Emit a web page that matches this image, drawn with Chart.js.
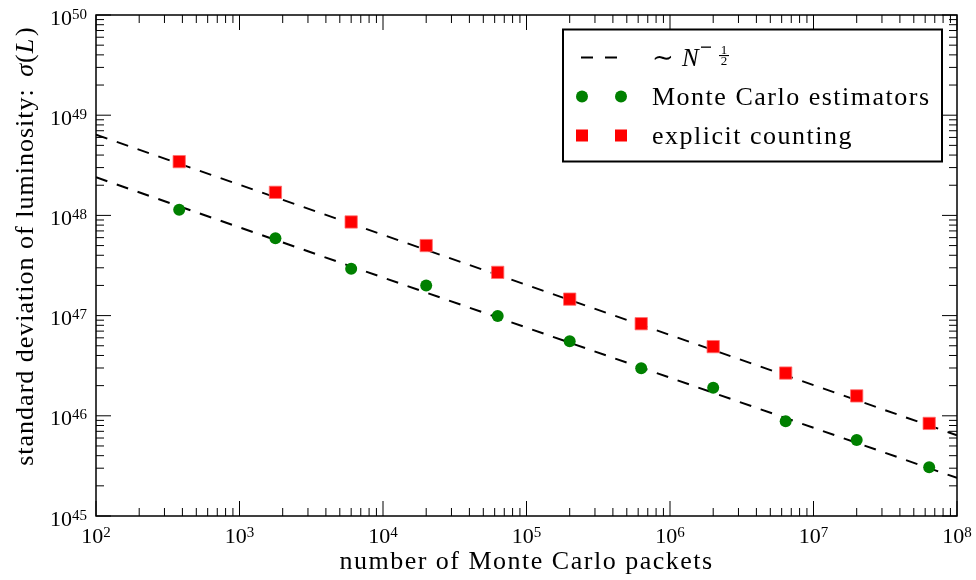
<!DOCTYPE html>
<html>
<head>
<meta charset="utf-8">
<script src="https://cdn.jsdelivr.net/npm/chart.js@4/dist/chart.umd.min.js"></script>
<style>
  body { margin: 0; background: #fff; }
  canvas { display: block; }
</style>
</head>
<body>
<canvas id="myChart" width="976" height="580"></canvas>
<script>
// number of packets (x) and measured standard deviations (y)
const packets = [380, 1780, 6000, 20000, 63000, 200000, 630000, 2.0e6, 6.4e6, 2.0e7, 6.4e7];
const mcEstimators = [1.14e48, 5.9e47, 2.93e47, 2.0e47, 9.9e46, 5.56e46, 2.99e46, 1.91e46, 8.8e45, 5.74e45, 3.07e45];
const explicitCounting = [3.44e48, 1.70e48, 8.6e47, 5.0e47, 2.70e47, 1.46e47, 8.3e46, 4.9e46, 2.67e46, 1.58e46, 8.4e45];

// ~ N^-1/2 guide lines, end points
const fitX = [1e2, 1e8];
const fitExplicit = [6.4e48, 6.4e45];
const fitMC = [2.4e48, 2.4e45];

// decade exponents for tick labels
const xExps = [2, 3, 4, 5, 6, 7, 8];
const yExps = [45, 46, 47, 48, 49, 50];

const xLabel = "number of Monte Carlo packets";
const yLabel = "standard deviation of luminosity: ";
const legendLabels = ["Monte Carlo estimators", "explicit counting"];

const SERIF = '"Liberation Serif", "DejaVu Serif", serif';

const toPts = (xs, ys) => xs.map((v, i) => ({ x: v, y: ys[i] }));

const drawPow = (ctx, exp, x, baseline, align) => {
  ctx.font = "22px " + SERIF;
  const wb = ctx.measureText("10").width;
  ctx.font = "15px " + SERIF;
  const we = ctx.measureText(String(exp)).width;
  let start = align === "center" ? x - (wb + we) / 2 : x - wb - we;
  ctx.textAlign = "left";
  ctx.font = "22px " + SERIF;
  ctx.fillText("10", start, baseline);
  ctx.font = "15px " + SERIF;
  ctx.fillText(String(exp), start + wb, baseline - 6);
};

const frame = {
  id: "frame",
  afterDraw(chart) {
    const { ctx, chartArea: a, scales } = chart;
    const x = scales.x, y = scales.y;
    ctx.save();
    ctx.strokeStyle = "#000";
    ctx.fillStyle = "#000";
    ctx.lineWidth = 1;

    // inward ticks on all four sides
    ctx.beginPath();
    xExps.forEach((e) => {
      for (let m = 1; m <= 9; m++) {
        if (e === xExps[xExps.length - 1] && m > 1) break;
        const px = x.getPixelForValue(m * Math.pow(10, e));
        const len = m === 1 ? 15 : 8;
        ctx.moveTo(px, a.bottom); ctx.lineTo(px, a.bottom - len);
        ctx.moveTo(px, a.top); ctx.lineTo(px, a.top + len);
      }
    });
    yExps.forEach((e) => {
      for (let m = 1; m <= 9; m++) {
        if (e === yExps[yExps.length - 1] && m > 1) break;
        const py = y.getPixelForValue(m * Math.pow(10, e));
        const len = m === 1 ? 15 : 8;
        ctx.moveTo(a.left, py); ctx.lineTo(a.left + len, py);
        ctx.moveTo(a.right, py); ctx.lineTo(a.right - len, py);
      }
    });
    ctx.stroke();

    ctx.lineWidth = 1.5;
    ctx.strokeRect(a.left, a.top, a.right - a.left, a.bottom - a.top);

    // tick labels
    xExps.forEach((e) => drawPow(ctx, e, x.getPixelForValue(Math.pow(10, e)), a.bottom + 27, "center"));
    yExps.forEach((e) => drawPow(ctx, e, a.left - 9, y.getPixelForValue(Math.pow(10, e)) + 9.5, "right"));

    // axis titles
    ctx.font = "26px " + SERIF;
    ctx.letterSpacing = "1.5px";
    ctx.textAlign = "center";
    ctx.fillText(xLabel, (a.left + a.right) / 2, 569);

    ctx.save();
    ctx.translate(33, 246);
    ctx.rotate(-Math.PI / 2);
    ctx.textAlign = "left";
    ctx.letterSpacing = "1px";
    const parts = [
      [yLabel, "26px " + SERIF, 4],
      ["σ", "italic 26px " + SERIF, 0],
      ["(", "26px " + SERIF, 0],
      ["L", "italic 26px " + SERIF, 2],
      [")", "26px " + SERIF, 0],
    ];
    let total = 0;
    parts.forEach((p) => { ctx.font = p[1]; total += ctx.measureText(p[0]).width + p[2]; });
    let cx = -total / 2;
    parts.forEach((p) => { ctx.font = p[1]; ctx.fillText(p[0], cx, 0); cx += ctx.measureText(p[0]).width + p[2]; });
    ctx.restore();

    // legend box
    const bx = a.right - 394, by = a.top + 14.5, bw = 379, bh = 132;
    ctx.fillStyle = "#fff";
    ctx.fillRect(bx, by, bw, bh);
    ctx.lineWidth = 2;
    ctx.strokeRect(bx, by, bw, bh);
    ctx.fillStyle = "#000";
    const rows = [by + 28, by + 67, by + 106];
    const mx1 = bx + 19, mx2 = bx + 58;
    const tx = bx + 89;

    // row 1: dashed line + ~ N^-1/2
    ctx.setLineDash([12, 12]);
    ctx.beginPath();
    ctx.moveTo(mx1 - 1, rows[0]); ctx.lineTo(mx2 - 1, rows[0]);
    ctx.stroke();
    ctx.setLineDash([]);
    ctx.letterSpacing = "0px";
    ctx.textAlign = "left";
    ctx.font = "26px " + SERIF;
    ctx.fillText("∼", tx, rows[0] + 8);
    ctx.font = "italic 25px " + SERIF;
    ctx.fillText("N", tx + 30, rows[0] + 8.5);
    ctx.fillRect(tx + 49, rows[0] - 11, 10, 1.3);
    ctx.font = "13px " + SERIF;
    ctx.textAlign = "center";
    ctx.fillText("1", tx + 72, rows[0] - 4);
    ctx.fillRect(tx + 67, rows[0] - 2.5, 10, 1.1);
    ctx.fillText("2", tx + 72, rows[0] + 7);

    // rows 2,3: markers + labels
    ctx.fillStyle = "#008000";
    [mx1, mx2].forEach((m) => { ctx.beginPath(); ctx.arc(m, rows[1], 6, 0, Math.PI * 2); ctx.fill(); });
    ctx.fillStyle = "#ff0000";
    [mx1, mx2].forEach((m) => ctx.fillRect(m - 6, rows[2] - 6, 12, 12));

    ctx.fillStyle = "#000";
    ctx.textAlign = "left";
    ctx.font = "26px " + SERIF;
    ctx.letterSpacing = "1.5px";
    ctx.fillText(legendLabels[0], tx, rows[1] + 8.5);
    ctx.fillText(legendLabels[1], tx, rows[2] + 8.5);
    ctx.restore();
  },
};

const chartRef = document.getElementById("myChart");
new Chart(chartRef, {
  type: "scatter",
  data: {
    datasets: [
      {
        label: legendLabels[0],
        data: toPts(packets, mcEstimators),
        pointStyle: "circle",
        pointRadius: 6,
        backgroundColor: "#008000",
        borderColor: "#008000",
        borderWidth: 0,
      },
      {
        label: legendLabels[1],
        data: toPts(packets, explicitCounting),
        pointStyle: "rect",
        pointRadius: 8.7,
        backgroundColor: "#ff0000",
        borderColor: "rgba(255,110,110,1)",
        borderWidth: 0.8,
      },
      {
        label: "fit explicit",
        data: toPts(fitX, fitExplicit),
        showLine: true,
        borderColor: "#000",
        borderWidth: 2,
        borderDash: [12, 10],
        pointRadius: 0,
      },
      {
        label: "fit mc",
        data: toPts(fitX, fitMC),
        showLine: true,
        borderColor: "#000",
        borderWidth: 2,
        borderDash: [12, 10],
        pointRadius: 0,
      },
    ],
  },
  options: {
    responsive: false,
    animation: false,
    devicePixelRatio: 1,
    layout: { padding: { left: 96, right: 19, top: 15, bottom: 64 } },
    scales: {
      x: { type: "logarithmic", min: 1e2, max: 1e8, display: false },
      y: { type: "logarithmic", min: 1e45, max: 1e50, display: false },
    },
    plugins: {
      legend: { display: false },
      tooltip: { enabled: false },
    },
  },
  plugins: [frame],
});
</script>
</body>
</html>
